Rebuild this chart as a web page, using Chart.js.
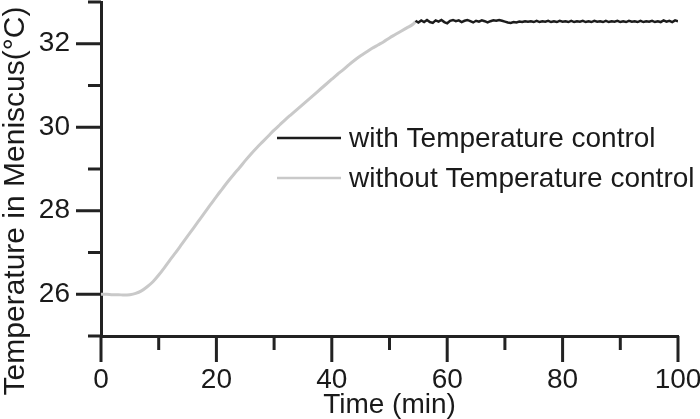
<!DOCTYPE html>
<html>
<head>
<meta charset="utf-8">
<script src="https://cdn.jsdelivr.net/npm/chart.js@4/dist/chart.umd.min.js"></script>
<style>
  html, body { margin: 0; background: #fff; }
  #wrap { width: 700px; height: 419px; }
</style>
</head>
<body>
<div id="wrap"><canvas id="c"></canvas></div>
<script>
// ---------------- Data ----------------
const seriesNames = ["with Temperature control", "without Temperature control"];
const yTitle = "Temperature in Meniscus(°C)";

const greyTime = [0,1,2,3,4,5,6,7,8,9,10,11,12,13,14,15,16,17,18,19,20,21,22,23,24,25,26,27,28,29,
  30,31,32,33,34,35,36,37,38,39,40,41,42,43,44,45,46,47,48,49,50,51,52,53,54,54.5];
const greyTemp = [26.00,26.00,25.99,25.99,25.98,25.99,26.02,26.08,26.18,26.30,
  26.46,26.64,26.83,27.01,27.20,27.39,27.58,27.77,27.96,28.15,
  28.34,28.52,28.70,28.87,29.03,29.20,29.36,29.51,29.65,29.79,
  29.93,30.06,30.19,30.31,30.43,30.55,30.67,30.79,30.91,31.03,
  31.15,31.27,31.38,31.50,31.61,31.71,31.80,31.89,31.97,32.05,
  32.14,32.22,32.30,32.38,32.46,32.53];

const blackTime = [54.5,55,55.5,56,56.5,57,57.5,58,58.5,59,59.5,60,60.5,61,61.5,62,62.5,63,63.5,64,
  64.5,65,65.5,66,66.5,67,67.5,68,68.5,69,69.5,70,70.5,71,71.5,72,72.5,73,73.5,74,
  74.5,75,75.5,76,76.5,77,77.5,78,78.5,79,79.5,80,80.5,81,81.5,82,82.5,83,83.5,84,
  84.5,85,85.5,86,86.5,87,87.5,88,88.5,89,89.5,90,90.5,91,91.5,92,92.5,93,93.5,94,
  94.5,95,95.5,96,96.5,97,97.5,98,98.5,99,99.5,100];
const blackTemp = [32.55,32.51,32.56,32.52,32.57,32.52,32.50,32.56,32.53,32.57,
  32.52,32.49,32.55,32.57,32.54,32.56,32.52,32.55,32.57,32.54,
  32.51,32.55,32.53,32.56,32.54,32.51,32.54,32.56,32.55,32.57,
  32.55,32.53,32.51,32.50,32.52,32.51,32.53,32.52,32.54,32.53,
  32.54,32.52,32.55,32.52,32.54,32.53,32.55,32.52,32.54,32.52,
  32.55,32.53,32.54,32.52,32.55,32.52,32.54,32.53,32.55,32.52,
  32.54,32.52,32.55,32.53,32.54,32.52,32.55,32.52,32.54,32.53,
  32.55,32.52,32.54,32.52,32.55,32.53,32.54,32.52,32.55,32.52,
  32.54,32.53,32.55,32.52,32.54,32.52,32.56,32.53,32.55,32.52,
  32.56,32.54];

const xTicks = [0, 20, 40, 60, 80, 100];
const yTicks = [26, 28, 30, 32];

const toPoints = (xs, ys) => xs.map((x, i) => ({ x, y: ys[i] }));

// ---------------- Plugins ----------------
const INK = "#222";
const TEXT = "#1a1a1a";
const FONT = "'Liberation Sans', Arial, sans-serif";

// outward tick marks, long for labelled values, short for the rest
const tickMarks = {
  id: "tickMarks",
  afterDraw(chart) {
    const { ctx, scales: { x, y } } = chart;
    ctx.save();
    ctx.strokeStyle = INK;
    ctx.lineWidth = 3;
    ctx.beginPath();
    x.ticks.forEach(t => {
      const px = x.getPixelForValue(t.value);
      const len = xTicks.includes(t.value) ? 26 : 14;
      ctx.moveTo(px, x.top);
      ctx.lineTo(px, x.top + len);
    });
    y.ticks.forEach(t => {
      const py = y.getPixelForValue(t.value);
      const len = yTicks.includes(t.value) ? 25 : 13;
      ctx.moveTo(y.right, py);
      ctx.lineTo(y.right - len, py);
    });
    ctx.stroke();
    ctx.restore();
  }
};

// rotated y title, centred on the canvas height like the original figure
const yTitlePlugin = {
  id: "yTitle",
  afterDraw(chart) {
    const { ctx } = chart;
    ctx.save();
    ctx.translate(16, 201);
    ctx.rotate(-Math.PI / 2);
    ctx.font = "30px " + FONT;
    ctx.fillStyle = TEXT;
    ctx.textAlign = "center";
    ctx.textBaseline = "middle";
    ctx.fillText(yTitle, 0, 0);
    ctx.restore();
  }
};

// legend inside the plot area
const insideLegend = {
  id: "insideLegend",
  afterDraw(chart) {
    const { ctx } = chart;
    ctx.save();
    ctx.font = "28px " + FONT;
    ctx.textBaseline = "middle";
    chart.data.datasets.forEach((ds, i) => {
      const yy = 138 + i * 40;
      ctx.strokeStyle = ds.borderColor;
      ctx.lineWidth = 2.5;
      ctx.beginPath();
      ctx.moveTo(277, yy);
      ctx.lineTo(341, yy);
      ctx.stroke();
      ctx.fillStyle = TEXT;
      ctx.fillText(ds.label, 349, yy + 1);
    });
    ctx.restore();
  }
};

// ---------------- Chart ----------------
new Chart(document.getElementById("c"), {
  type: "line",
  data: {
    datasets: [
      {
        label: seriesNames[0],
        data: toPoints(blackTime, blackTemp),
        borderColor: "#1c1c1c",
        borderWidth: 2.5,
        pointRadius: 0,
        tension: 0
      },
      {
        label: seriesNames[1],
        data: toPoints(greyTime, greyTemp),
        borderColor: "#c9c9c9",
        borderWidth: 3,
        pointRadius: 0,
        cubicInterpolationMode: "monotone"
      }
    ]
  },
  options: {
    responsive: true,
    maintainAspectRatio: false,
    animation: false,
    layout: { padding: { top: 2, right: 22, left: 0, bottom: 0 } },
    plugins: { legend: { display: false }, tooltip: { enabled: false } },
    scales: {
      x: {
        type: "linear",
        min: 0,
        max: 100,
        afterFit: s => { s.height = 83; s.paddingLeft = 0; s.paddingRight = 0; },
        border: { display: true, color: INK, width: 3 },
        grid: { display: false, drawTicks: false },
        ticks: {
          stepSize: 10,
          autoSkip: false,
          maxRotation: 0,
          padding: 27,
          color: TEXT,
          font: { family: FONT, size: 28 },
          callback: v => (xTicks.includes(v) ? v : "")
        },
        title: {
          display: true,
          text: "Time (min)",
          color: TEXT,
          font: { family: FONT, size: 28 },
          padding: { top: 0, bottom: -3 }
        }
      },
      y: {
        type: "linear",
        min: 25,
        max: 33,
        afterFit: s => { s.width = 101; s.paddingTop = 0; s.paddingBottom = 0; },
        border: { display: true, color: INK, width: 3 },
        grid: { display: false, drawTicks: false },
        ticks: {
          stepSize: 1,
          autoSkip: false,
          padding: 31,
          color: TEXT,
          font: { family: FONT, size: 28 },
          callback: v => (yTicks.includes(v) ? v : "")
        }
      }
    }
  },
  plugins: [tickMarks, yTitlePlugin, insideLegend]
});
</script>
</body>
</html>
